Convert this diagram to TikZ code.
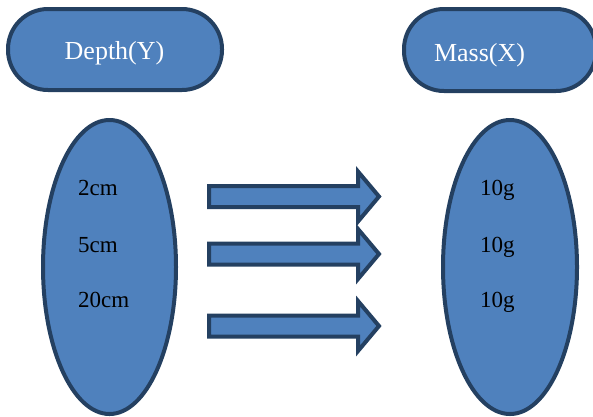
\documentclass[tikz,border=0pt]{standalone}
\usepackage{fontspec}
\setmainfont{Liberation Serif}
\usepackage{tikz}
\usetikzlibrary{shapes.geometric,positioning}
\definecolor{boxblue}{RGB}{79,129,189}
\definecolor{boxnavy}{RGB}{36,64,97}

\begin{document}
\begin{tikzpicture}[
    x=1pt, y=-1pt,
    shapebase/.style={draw=boxnavy, fill=boxblue, line width=4pt, inner sep=0pt},
    titlebox/.style={shapebase, rectangle, rounded corners=40pt},
    setshape/.style={shapebase, ellipse, minimum width=133pt, minimum height=294pt},
    titletext/.style={font=\fontsize{26}{30}\selectfont, text=white, anchor=base},
    itemtext/.style={font=\fontsize{23}{27}\selectfont, anchor=base west, inner sep=0pt},
    blockarrow/.style={shapebase, line join=miter},
]
    \useasboundingbox (0,0) rectangle (593,416);
    \clip (0,0) rectangle (593,416);
    % title boxes
    \node[titlebox, minimum width=214pt, minimum height=81pt] (depthbox) at (115,49.5) {};
    \node[titletext] (depthlbl) at (114.5,59.5) {Depth(Y)};
    \node[titlebox, minimum width=192pt, minimum height=82pt] (massbox) at (500,50) {};
    \node[titletext] (masslbl) at (479.5,61) {Mass(X)};
    % sets
    \node[setshape] (depthset) at (109.5,267) {};
    \node[setshape, minimum width=134pt] (massset) at (510,267) {};
    \node[itemtext] (d1) at (78,195.5) {2cm};
    \node[itemtext] (d2) at (78,252) {5cm};
    \node[itemtext] (d3) at (78,307) {20cm};
    \foreach \y/\n in {195.5/1, 252/2, 307/3} {
        \node[itemtext] (m\n) at (480,\y) {10g};
    }
    % block arrows
    \foreach \y in {196.5, 254, 326} {
        \draw[blockarrow] (209,\y-10.5) -- (358,\y-10.5) -- (358,\y-25) -- (379,\y)
            -- (358,\y+25) -- (358,\y+10.5) -- (209,\y+10.5) -- cycle;
    }
\end{tikzpicture}
\end{document}
